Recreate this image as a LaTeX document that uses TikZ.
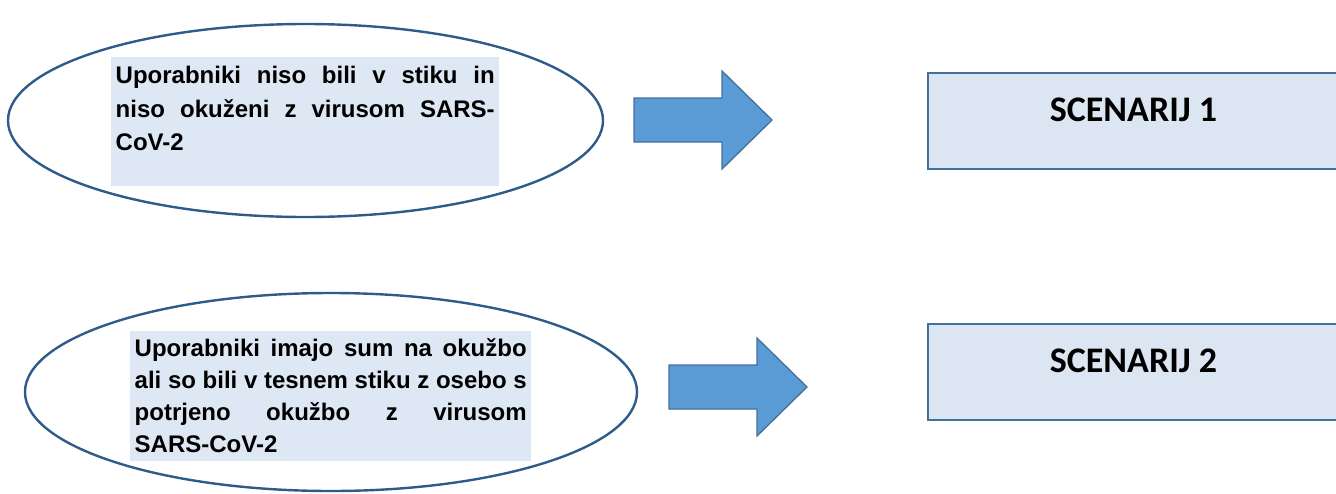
\documentclass[tikz,border=0pt]{standalone}
\usepackage{fontspec}
\setmainfont{Liberation Sans}
\newfontfamily\scenfont{Carlito}
\usetikzlibrary{shapes.geometric}

\definecolor{ovalline}{HTML}{2E5C8A}
\definecolor{notefill}{HTML}{DEE8F4}
\definecolor{scenfill}{HTML}{DCE6F2}
\definecolor{scenline}{HTML}{41709F}
\definecolor{arrowfill}{HTML}{5B9BD5}
\definecolor{arrowline}{HTML}{41719C}

\hbadness=10000
\hyphenpenalty=10000

\tikzset{
    pics/blockarrow/.style={
      code={
        \filldraw[draw=arrowline, fill=arrowfill, line width=1.3pt]
          (0,-22) -- (88,-22) -- (88,-49) -- (138,0) -- (88,49) -- (88,22) -- (0,22) -- cycle;
      }
    }
  }
\tikzset{
    oval/.style={draw=ovalline, line width=2.4pt, ellipse, inner sep=0pt},
    note/.style={fill=notefill, inner xsep=4.5pt, inner ysep=0pt, anchor=north west,
      font=\bfseries\fontsize{24}{#1}\selectfont},
    scenbox/.style={draw=scenline, fill=scenfill, line width=2pt, anchor=north west,
      minimum width=411pt, minimum height=96pt, text height=20pt, text depth=20pt,
      font=\scenfont\bfseries\fontsize{36}{40}\selectfont}
  }

\begin{document}
\begin{tikzpicture}[x=1pt, y=-1pt]
    \useasboundingbox (0,0) rectangle (1336,493);

    \node[oval, minimum width=595pt, minimum height=193pt] (case1) at (305.5,120.5) {};
    \node[note=33.5pt] (case1text) at (111,57) {\parbox[t][129pt][t]{379pt}{\rule{0pt}{26.5pt}Uporabniki niso bili v stiku in\linebreak niso okuženi z virusom SARS-\linebreak CoV-2}};

    \node[oval, minimum width=612pt, minimum height=198pt] (case2) at (331,392) {};
    \node[note=32pt] (case2text) at (130,331) {\parbox[t][130pt][t]{392pt}{\rule{0pt}{25pt}Uporabniki imajo sum na okužbo\linebreak ali so bili v tesnem stiku z osebo s\linebreak potrjeno okužbo z virusom\linebreak SARS-CoV-2}};

    \draw (634,120) pic{blockarrow};
    \draw (669,387) pic{blockarrow};

    \node[scenbox] (scen1) at (927,72) {SCENARIJ 1};
    \node[scenbox] (scen2) at (927,323) {SCENARIJ 2};

  \end{tikzpicture}
\end{document}
